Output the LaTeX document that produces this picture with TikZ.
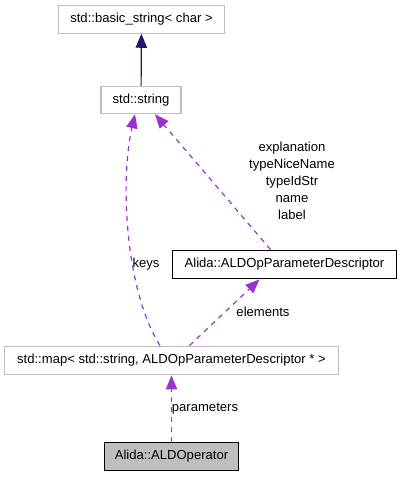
\documentclass[tikz,border=0pt]{standalone}
\usepackage{fontspec}
\setmainfont{Liberation Sans}
\usepackage{tikz}
\usetikzlibrary{
  arrows.meta,
  calc
}
\definecolor{edgegray}{RGB}{191,191,191}
\definecolor{usepurple}{RGB}{154,50,205}
\definecolor{inhnavy}{RGB}{25,25,112}
\tikzset{
  cls/.style={
    draw=edgegray,
    line width=0.9pt,
    minimum height=20.5pt,
    inner sep=0pt,
    font=\fontsize{9.8}{11.5}\selectfont},
  cur/.style={
    cls,
    draw=black,
    fill=edgegray},
  inh/.style={
    -{Triangle[length=10.5pt,width=8.5pt]},
    draw=inhnavy,
    line width=0.9pt},
  use/.style={
    -{Triangle[length=10.5pt,width=8.5pt]},
    draw=usepurple,
    line width=0.9pt,
    dash pattern=on 3.75pt off 3.75pt},
  lbl/.style={
    font=\fontsize{9.8}{12.75}\selectfont,
    inner sep=0pt,
    align=center}
  }
\begin{document}
\begin{tikzpicture}[x=0.75pt,y=-0.75pt]
    \useasboundingbox (0,0) rectangle (400,477);
    \node[cls, minimum width=125pt] (bstr) at (141.5,19.5) {std::basic\_string< char >};
    \node[cls, minimum width=60pt] (str) at (141,100) {std::string};
    \node[cls, draw=black, minimum width=168.5pt, minimum height=21.5pt] (desc) at (284.5,264.5) {Alida::ALDOpParameterDescriptor};
    \node[cls, minimum width=251pt, minimum height=21.5pt] (map) at (171.5,360.5) {std::map< std::string, ALDOpParameterDescriptor * >};
    \node[cur, minimum width=101pt] (op) at (171.5,456.5) {Alida::ALDOperator};
    \draw [inh] (str) -- (bstr);
    \draw [use]
      ($(map.north)+(-11.5,0)$) .. controls (125,290) and (120,180) .. ($(str.south)+(-6,0)$);
    \draw [use]
      ($(desc.north)+(-14,0)$) -- ($(str.south)+(14,0)$);
    \draw [use]
      ($(map.north)+(18,0)$) -- ($(desc.south)+(-25,0)$);
    \draw [use] (op) -- (map);
    \node[lbl] (keyslbl) at (146,264) {keys};
    \node[lbl] (attrlbl) at (292,181) {explanation\\typeNiceName\\typeIdStr\\name\\label};
    \node[lbl] (elemlbl) at (263,312) {elements};
    \node[lbl] (paramlbl) at (205,409) {parameters};
  \end{tikzpicture}
\end{document}
